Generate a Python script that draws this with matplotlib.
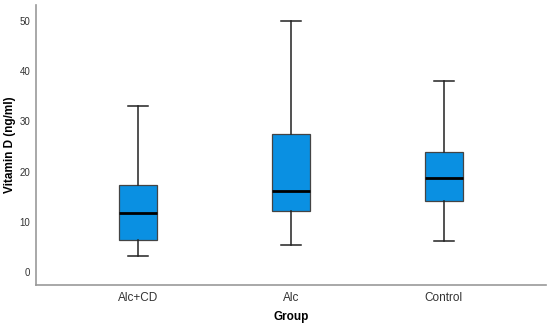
import numpy as np
from matplotlib import pyplot as plt

plt.rcParams['font.family'] = ['Liberation Sans', 'DejaVu Sans']

groups = ['Alc+CD', 'Alc', 'Control']
whislo = [3.2, 5.5, 6.3]
q1 = [6.5, 12.2, 14.2]
med = [11.8, 16.1, 18.7]
q3 = [17.4, 27.4, 23.9]
whishi = [33.0, 50.0, 38.1]

stats = []
for i in range(len(groups)):
    stats.append({'label': groups[i], 'whislo': whislo[i], 'q1': q1[i],
                  'med': med[i], 'q3': q3[i], 'whishi': whishi[i], 'fliers': []})

fig = plt.figure(figsize=(5.5, 3.27), dpi=100)
ax = fig.add_axes([0.0655, 0.1284, 0.927, 0.8563])

ax.bxp(stats, positions=[1, 2, 3], widths=0.25, patch_artist=True, showfliers=False,
       boxprops=dict(facecolor='#0a90e2', edgecolor='#444444', linewidth=0.9),
       medianprops=dict(color='black', linewidth=2),
       whiskerprops=dict(color='#222222', linewidth=1.1),
       capprops=dict(color='#222222', linewidth=1.1), capwidths=0.13)

ax.set_xlim(0.333, 3.667)
ax.set_ylim(-2.5, 53.1)
ax.set_yticks([0, 10, 20, 30, 40, 50])
for s in ['top', 'right']:
    ax.spines[s].set_visible(False)
for s in ['left', 'bottom']:
    ax.spines[s].set_color('#999999')
    ax.spines[s].set_linewidth(1.2)
ax.tick_params(axis='both', length=0, colors='#333333')
ax.tick_params(axis='y', labelsize=7, pad=4)
ax.tick_params(axis='x', labelsize=8.5, pad=5)
ax.set_ylabel('Vitamin D (ng/ml)', fontsize=8.5, fontweight='bold')
ax.set_xlabel('Group', fontsize=8.5, fontweight='bold')
ax.yaxis.set_label_coords(-0.051, 0.5)
ax.xaxis.set_label_coords(0.5, -0.114)
ax.xaxis.label.set_va('center')
ax.yaxis.label.set_va('center')

plt.savefig('out.png', dpi=100)
